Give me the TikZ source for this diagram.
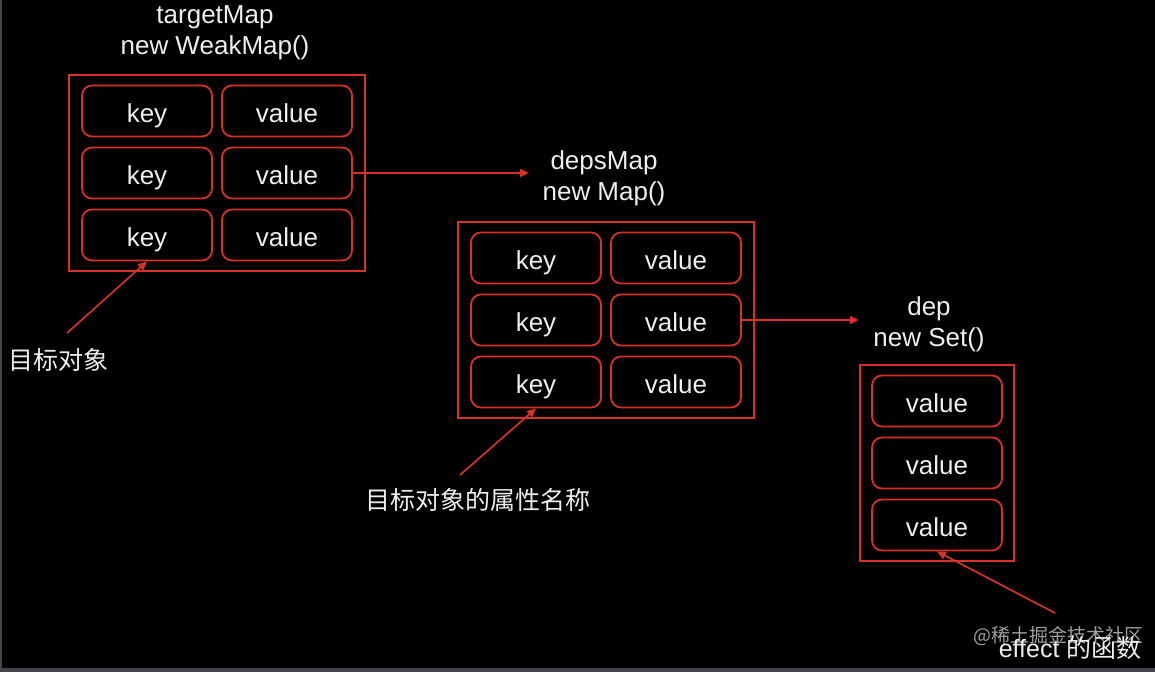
\documentclass[tikz,border=0pt]{standalone}
\usepackage{fontspec}
\setmainfont{Liberation Sans}
\newfontfamily\cjk{Noto Sans CJK SC}
\usetikzlibrary{positioning,fit,arrows.meta}
\definecolor{boxred}{RGB}{214,50,40}
\definecolor{txtwhite}{RGB}{238,238,238}
\definecolor{edgegray}{RGB}{68,68,74}
\tikzset{
  cell/.style = {draw = boxred, line width = 1.8pt, rounded corners = 10pt,
    minimum width = 130pt, minimum height = 51pt, inner sep = 0pt,
    text height = 24pt, text depth = 1.5pt,
    text = txtwhite, font = \fontsize{26}{31}\selectfont},
  frame/.style = {draw = boxred, line width = 1.9pt, inner xsep = 12.5pt, inner ysep = 10pt},
  title/.style = {text = txtwhite, align = center, font = \fontsize{26}{31}\selectfont},
  note/.style = {text = txtwhite, font = \fontsize{25}{30}\selectfont},
  pointer/.style = {draw = boxred, line width = 1.7pt, -{Triangle[length = 9pt, width = 8pt]}}
}

\begin{document}
\begin{tikzpicture}[x = 1pt, y = -1pt]
\fill[black] (0,0) rectangle (1155,672);
\useasboundingbox (0,0) rectangle (1155,672);
\fill[edgegray] (0,0) rectangle (2,672);
\fill[edgegray] (0,668) rectangle (1155,672);

% targetMap
\node[title] (tmtitle) at (215,33) {targetMap\\new WeakMap()};
\foreach \i/\y in {1/111, 2/173, 3/235} {
  \node[cell] (k\i) at (147,\y) {key};
  \node[cell] (v\i) at (287,\y) {value};
}
\node[frame, fit = (k1)(v3)] (tmbox) {};

% depsMap
\node[title] (dmtitle) at (604,178) {depsMap\\new Map()};
\foreach \i/\y in {1/258, 2/320, 3/382} {
  \node[cell] (dk\i) at (536,\y) {key};
  \node[cell] (dv\i) at (676,\y) {value};
}
\node[frame, fit = (dk1)(dv3)] (dmbox) {};

% dep
\node[title] (deptitle) at (929,324) {dep\\new Set()};
\foreach \i/\y in {1/401, 2/463, 3/525}
  \node[cell] (s\i) at (937,\y) {value};
\node[frame, fit = (s1)(s3), inner xsep = 11.5pt] (depbox) {};

\draw[pointer, shorten > = 10pt] (v2.east) -- (v2.east -| dmtitle.west);
\draw[pointer, shorten > = 11pt] (dv2.east) -- (dv2.east -| deptitle.west);

% labels
\node[note, anchor = west] (objnote) at (5,360) {\cjk 目标对象};
\coordinate (objtail) at (67,333);
\draw[pointer] (objtail) -- (k3.south);

\node[note] (keynote) at (478,500) {\cjk 目标对象的属性名称};
\coordinate (keytail) at (460,475);
\draw[pointer] (keytail) -- (dk3.south);

\node[text = gray!75, font = \fontsize{19}{22}\selectfont] (mark) at (1058,636) {\cjk @稀土掘金技术社区};
\node[note, anchor = east] (fnnote) at (1145,648) {effect {\cjk 的函数}};
\coordinate (fntail) at (1055,613);
\draw[pointer] (fntail) -- (s3.south);
\end{tikzpicture}
\end{document}
